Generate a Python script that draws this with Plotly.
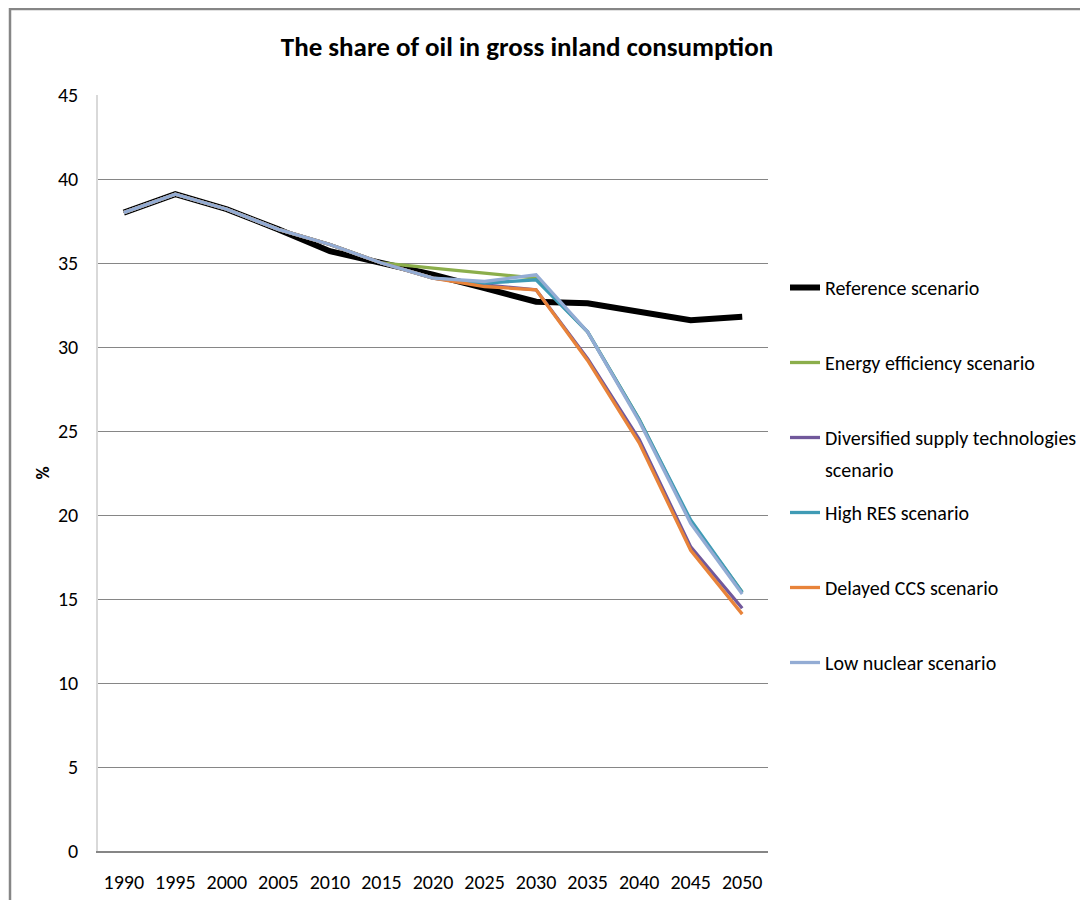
import plotly.graph_objects as go

years = ["1990", "1995", "2000", "2005", "2010", "2015", "2020", "2025", "2030", "2035", "2040", "2045", "2050"]

reference = [38.0, 39.1, 38.2, 37.0, 35.7, 35.0, 34.3, 33.5, 32.7, 32.6, 32.1, 31.6, 31.8]
energy_efficiency = [38.0, 39.1, 38.2, 37.0, 36.1, 35.0, 34.7, 34.4, 34.1, 30.9, 25.7, 19.6, 15.4]
diversified_supply = [38.0, 39.1, 38.2, 37.0, 36.1, 35.0, 34.1, 33.7, 33.4, 29.3, 24.5, 18.1, 14.45]
high_res = [38.0, 39.1, 38.2, 37.0, 36.1, 35.0, 34.1, 33.8, 34.0, 30.9, 25.7, 19.7, 15.4]
delayed_ccs = [38.0, 39.1, 38.2, 37.0, 36.1, 35.0, 34.1, 33.6, 33.4, 29.2, 24.3, 17.9, 14.1]
low_nuclear = [38.0, 39.1, 38.2, 37.0, 36.1, 35.0, 34.1, 33.9, 34.3, 30.9, 25.6, 19.5, 15.3]

series_names = [
    "Reference scenario",
    "Energy efficiency scenario",
    "Diversified supply technologies",
    "High RES scenario",
    "Delayed CCS scenario",
    "Low nuclear scenario",
]
wrapped_tail = "scenario"  # second line of the "Diversified supply technologies scenario" legend entry
series_values = [reference, energy_efficiency, diversified_supply, high_res, delayed_ccs, low_nuclear]
series_colors = ["#000000", "#8BAE4B", "#71589B", "#3F9BB5", "#E8833A", "#93ACD4"]
series_widths = [6, 3.3, 3.3, 3.3, 3.3, 3.3]

FONT = "Carlito, Calibri, 'Liberation Sans Narrow', 'Open Sans', sans-serif"

# page body has an 8px margin, so figure coords = screen coords - 8
W, H = 1080, 892
L, R, T, B = 90, 760, 87, 843

fig = go.Figure()
for i, (name, vals, col, w) in enumerate(zip(series_names, series_values, series_colors, series_widths)):
    fig.add_trace(go.Scatter(
        x=years, y=vals, name=name, mode="lines",
        line=dict(color=col, width=w),
        legendgroup=f"g{i}",
    ))

def px_x(p):
    return (p - L) / (R - L)

def px_y(p):
    return (B - p) / (B - T)

fig.update_layout(
    width=W, height=H,
    margin=dict(l=L, r=W - R, t=T, b=H - B, pad=0, autoexpand=False),
    paper_bgcolor="white", plot_bgcolor="white",
    font=dict(family=FONT, size=20, color="#000000"),
    title=dict(
        text="<b>The share of oil in gross inland consumption</b>",
        x=px_x(519), xref="paper", xanchor="center",
        y=1 - 39 / H, yref="container", yanchor="middle",
        font=dict(size=27, family=FONT, color="#000000"),
    ),
    xaxis=dict(
        type="category", range=[-0.5, len(years) - 0.5],
        showgrid=False, zeroline=False,
        showline=True, linecolor="#868686", linewidth=1.5,
        ticks="", ticklabelstandoff=12,
        tickfont=dict(size=20),
    ),
    yaxis=dict(
        range=[0, 45], dtick=5, tick0=0,
        showgrid=True, gridcolor="#868686", gridwidth=1,
        zeroline=False,
        showline=True, linecolor="#D9D9D9", linewidth=1.5,
        ticks="", ticklabelstandoff=14,
        tickfont=dict(size=20),
        title=dict(text="<b>%</b>", font=dict(size=18), standoff=4),
    ),
    legend=dict(
        x=px_x(777), y=px_y(260), xanchor="left", yanchor="top",
        font=dict(size=20, family=FONT),
        tracegroupgap=46, itemwidth=30, valign="top",
        bgcolor="rgba(0,0,0,0)",
    ),
    showlegend=True,
    shapes=[dict(
        type="rect", xref="paper", yref="paper",
        x0=px_x(2), x1=px_x(1100), y0=px_y(920), y1=px_y(1),
        line=dict(color="#868686", width=2.5), fillcolor="rgba(0,0,0,0)",
        layer="below",
    )],
    annotations=[dict(
        text=wrapped_tail, xref="paper", yref="paper",
        x=px_x(815), y=px_y(462), xanchor="left", yanchor="middle",
        showarrow=False, font=dict(size=20, family=FONT, color="#000000"),
    )],
)

fig.write_html("out.html")
